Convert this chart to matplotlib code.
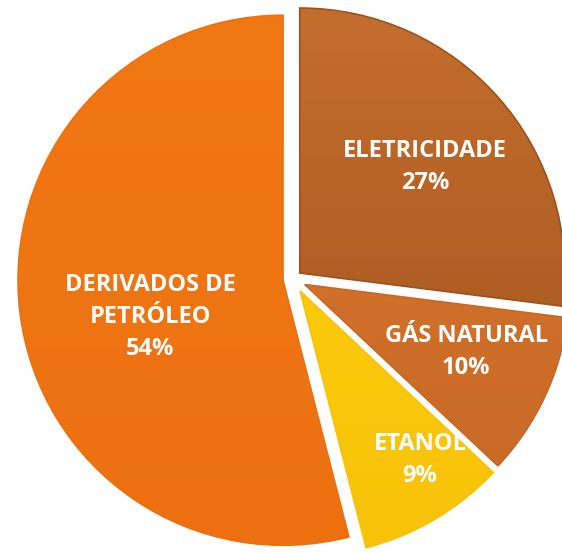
import numpy as np
import matplotlib
matplotlib.use("Agg")
import matplotlib.pyplot as plt
from matplotlib.colors import LinearSegmentedColormap

plt.rcParams['font.family'] = ['Open Sans', 'DejaVu Sans']

# dados do grafico
categorias = ['ELETRICIDADE', 'GÁS NATURAL', 'ETANOL', 'DERIVADOS DE\nPETRÓLEO']
valores = [27, 10, 9, 54]
explosao = [0.034, 0.049, 0.053, 0.038]

# cores (topo, base) de cada fatia
cores_topo = ['#C46E2E', '#DA772E', '#FFD20E', '#F27814']
cores_base = ['#9E511B', '#C66824', '#F8C208', '#EC7010']
# posicao dos rotulos: distancia do centro e desvio angular (graus)
dist_rotulo = [0.62, 0.66, 0.78, 0.52]
desvio_ang = [-1.1, 2.6, 4.8, 8.2]

fig = plt.figure(figsize=(5.62, 5.52), dpi=100)
ax = fig.add_axes([0, 0, 1, 1])

wedges, _ = ax.pie(valores, explode=explosao, startangle=90, counterclock=False,
                   radius=1.0, colors=cores_topo,
                   wedgeprops=dict(linewidth=1.2))

ax.set_aspect('auto')
ax.axis('off')

# preenchimento com degrade em cada fatia
grad = np.linspace(1, 0, 256).reshape(-1, 1)
for w, c1, c2 in zip(wedges, cores_topo, cores_base):
    cmap = LinearSegmentedColormap.from_list('g', [c2, c1])
    w.set_facecolor('none')
    w.set_edgecolor(c2)
    cx, cy = w.center
    im = ax.imshow(grad, cmap=cmap, aspect='auto', vmin=0, vmax=1,
                   extent=(cx - 1, cx + 1, cy - 1, cy + 1), zorder=0.5)
    im.set_clip_path(w)

ax.set_xlim(-1.1057, 1.0151)
ax.set_ylim(-1.0302, 1.0528)

# rotulos
for w, nome, v, d, da in zip(wedges, categorias, valores, dist_rotulo, desvio_ang):
    ang = np.deg2rad((w.theta1 + w.theta2) / 2 + da)
    cx, cy = w.center
    x = cx + d * np.cos(ang)
    y = cy + d * np.sin(ang)
    ax.text(x, y, f'{nome}\n{v}%', ha='center', va='center', color='white',
            fontsize=17, fontweight='bold', linespacing=1.45, zorder=3)

fig.savefig('out.png', dpi=100)
